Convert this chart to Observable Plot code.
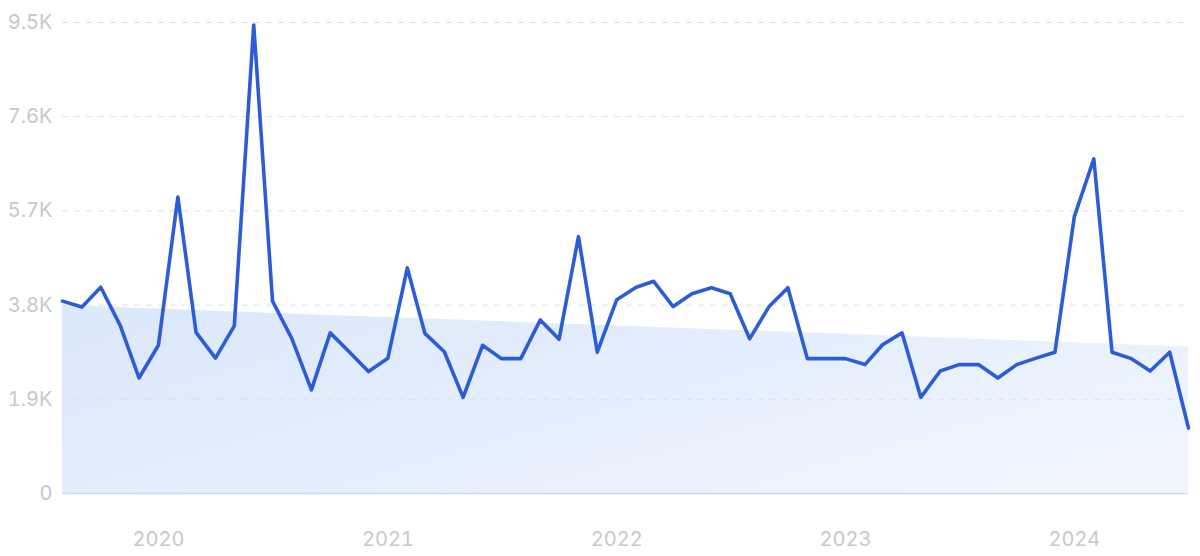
<!DOCTYPE html>
<html>
<head>
<meta charset="utf-8">
<script src="https://cdn.jsdelivr.net/npm/d3@7"></script>
<script src="https://cdn.jsdelivr.net/npm/@observablehq/plot@0.6"></script>
<style>
  html, body { margin: 0; padding: 0; background: #ffffff; }
  #chart { width: 1200px; height: 556px; }
</style>
</head>
<body>
<div id="chart"></div>
<script>
const months = [
  "2019-08","2019-09","2019-10","2019-11","2019-12",
  "2020-01","2020-02","2020-03","2020-04","2020-05","2020-06","2020-07","2020-08","2020-09","2020-10","2020-11","2020-12",
  "2021-01","2021-02","2021-03","2021-04","2021-05","2021-06","2021-07","2021-08","2021-09","2021-10","2021-11","2021-12",
  "2022-01","2022-02","2022-03","2022-04","2022-05","2022-06","2022-07","2022-08","2022-09","2022-10","2022-11","2022-12",
  "2023-01","2023-02","2023-03","2023-04","2023-05","2023-06","2023-07","2023-08","2023-09","2023-10","2023-11","2023-12",
  "2024-01","2024-02","2024-03","2024-04","2024-05","2024-06","2024-07"
];
const values = [
  3880, 3760, 4160, 3390, 2330,
  2990, 5980, 3250, 2730, 3380, 9450, 3880, 3120, 2090, 3240, 2850, 2460,
  2730, 4550, 3230, 2860, 1940, 2990, 2720, 2720, 3500, 3110, 5180, 2850,
  3910, 4160, 4280, 3770, 4030, 4150, 4030, 3120, 3770, 4150, 2720, 2720,
  2720, 2600, 3000, 3240, 1940, 2470, 2600, 2600, 2330, 2600, 2730, 2850,
  5590, 6750, 2850, 2720, 2470, 2850, 1320
];
const trendMonths = ["2019-08", "2024-07"];
const trendValues = [3790, 2955];
const yTicks = [0, 1900, 3800, 5700, 7600, 9500];
const yTickLabels = ["0", "1.9K", "3.8K", "5.7K", "7.6K", "9.5K"];
const xTickYears = ["2020", "2021", "2022", "2023", "2024"];

const parse = d3.utcParse("%Y-%m");
const data = months.map((m, i) => ({date: parse(m), value: values[i]}));
const trend = trendMonths.map((m, i) => ({date: parse(m), value: trendValues[i]}));
const xTicks = xTickYears.map(y => d3.utcParse("%Y")(y));

const gradientDefs = () => {
  const defs = document.createElementNS("http://www.w3.org/2000/svg", "defs");
  defs.innerHTML = `<linearGradient id="trendGrad" x1="0" y1="0.2" x2="1" y2="0.8">
      <stop offset="0%" stop-color="#dce8fb"/>
      <stop offset="55%" stop-color="#e6effc"/>
      <stop offset="100%" stop-color="#f1f6fe"/>
    </linearGradient>`;
  return defs;
};

const chart = Plot.plot({
  width: 1200,
  height: 556,
  marginLeft: 62,
  marginRight: 12,
  marginTop: 22,
  marginBottom: 63,
  style: {fontFamily: "Inter, 'Noto Sans', sans-serif", fontSize: "20px", color: "#c6c8ce", background: "#ffffff"},
  x: {type: "utc", domain: [parse(months[0]), parse(months[months.length - 1])]},
  y: {domain: [0, 9500]},
  marks: [
    gradientDefs,
    Plot.areaY(trend, {x: "date", y: "value", fill: "url(#trendGrad)"}),
    Plot.gridY(yTicks.slice(1), {stroke: "#d8e2f3", strokeOpacity: 1, strokeWidth: 1, strokeDasharray: "6,6"}),
    Plot.ruleY([0], {stroke: "#c6daf5", strokeWidth: 1.5}),
    Plot.lineY(data, {x: "date", y: "value", stroke: "#2c5cd6", strokeWidth: 3.6, strokeLinejoin: "round"}),
    Plot.axisY({ticks: yTicks, tickSize: 0, tickPadding: 10, tickFormat: d => yTickLabels[yTicks.indexOf(d)], label: null, fill: "#c6c8ce"}),
    Plot.axisX({ticks: xTicks, tickSize: 0, tickPadding: 38, tickFormat: d3.utcFormat("%Y"), label: null, fill: "#c6c8ce"})
  ]
});
document.getElementById("chart").appendChild(chart);
</script>
</body>
</html>
